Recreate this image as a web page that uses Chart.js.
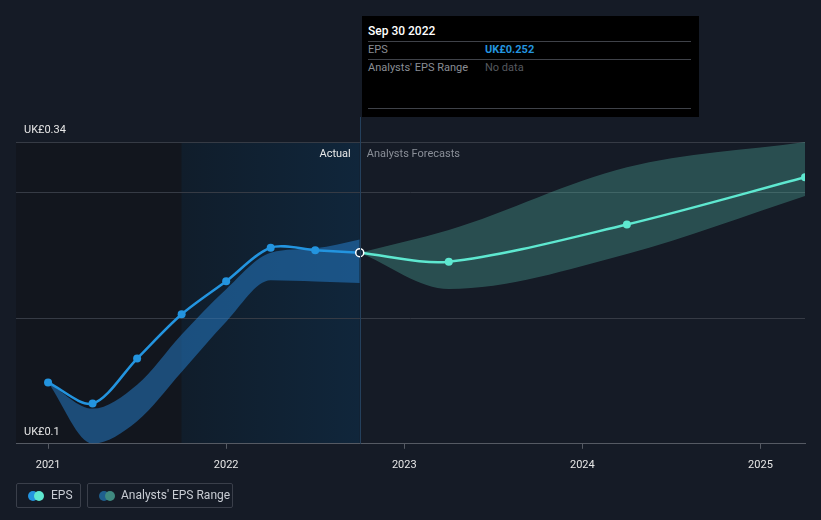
<!DOCTYPE html>
<html>
<head>
<meta charset="utf-8">
<script src="https://cdn.jsdelivr.net/npm/chart.js@4.4.1/dist/chart.umd.min.js"></script>
<style>
  html, body { margin: 0; padding: 0; background: #151b26; width: 821px; height: 520px; overflow: hidden; font-family: Roboto, "Noto Sans", sans-serif; }
  #wrap { position: relative; width: 821px; height: 520px; }
  #c { position: absolute; left: 0; top: 0; }
  #tip { position: absolute; left: 362px; top: 16px; width: 337px; height: 101px; background: #000; box-sizing: border-box; padding: 0 8px 0 6px; font-size: 11px; }
  #tip .title { color: #fff; font-size: 12px; font-weight: 500; height: 25px; line-height: 30px; border-bottom: 1px solid #3f4249; }
  #tip .row { height: 17px; line-height: 16px; border-bottom: 1px solid #3f4249; position: relative; color: #8a8e95; }
  #tip .row .v { position: absolute; left: 117px; top: 0; }
  #tip .row.last { border-bottom: none; }
  #tip .spacer { position: absolute; left: 6px; right: 8px; top: 92px; border-top: 1px solid #3f4249; }
  .leg { position: absolute; top: 483px; height: 25px; box-sizing: border-box; border: 1px solid #3a3f4a; border-radius: 2px; color: #c8ccd3; font-size: 12px; line-height: 23px; }
  .dot { position: absolute; top: 7px; width: 10px; height: 10px; border-radius: 50%; }
</style>
</head>
<body>
<div id="wrap">
  <canvas id="c" width="821" height="486"></canvas>
  <div id="tip">
    <div class="title">Sep 30 2022</div>
    <div class="row">EPS<span class="v" style="color:#2394df;font-weight:bold;">UK£0.252</span></div>
    <div class="row last">Analysts' EPS Range<span class="v" style="color:#55595f;">No data</span></div>
    <div class="spacer"></div>
  </div>
  <div class="leg" style="left:16px;width:65px;">
    <span class="dot" style="left:11px;background:#2394df;"></span>
    <span class="dot" style="left:17px;background:#5ee8d0;"></span>
    <span style="position:absolute;left:34px;">EPS</span>
  </div>
  <div class="leg" style="left:87px;width:146px;">
    <span class="dot" style="left:11px;background:#1f5f8e;"></span>
    <span class="dot" style="left:17px;background:#3f8a80;"></span>
    <span style="position:absolute;left:33px;">Analysts' EPS Range</span>
  </div>
</div>
<script>
// ---- data ----
const actualX = [2021, 2021.25, 2021.5, 2021.75, 2022, 2022.25, 2022.5, 2022.75];
const actualEPS = [0.1488, 0.132, 0.1678, 0.203, 0.2293, 0.256, 0.254, 0.252];
const actualLow = [0.1488, 0.1002, 0.118, 0.157, 0.197, 0.230, 0.229, 0.2278];
const actualHigh = [0.1488, 0.128, 0.147, 0.187, 0.223, 0.252, 0.2555, 0.2624];
const forecastX = [2022.75, 2023.25, 2024.25, 2025.25];
const forecastEPS = [0.252, 0.2448, 0.2744, 0.312];
const forecastLow = [0.252, 0.2232, 0.251, 0.297];
const forecastHigh = [0.252, 0.270, 0.320, 0.340];
const yTickValues = [0.1, 0.2, 0.3, 0.34];
const yLabelValues = [0.34, 0.1];
const xTickValues = [2021, 2022, 2023, 2024, 2025];
const xMin = 2020.82, xMax = 2025.25;
const pastStart = 2021.75, nowX = 2022.75;

const pts = (xs, ys) => xs.map((x, i) => ({ x: x, y: ys[i] }));

const bgPlugin = {
  id: 'bg',
  beforeDraw(chart) {
    const { ctx, chartArea: a, scales: { x } } = chart;
    const x1 = x.getPixelForValue(pastStart), x2 = x.getPixelForValue(nowX);
    ctx.save();
    ctx.fillStyle = '#12161e';
    ctx.fillRect(a.left, a.top, x1 - a.left, a.bottom - a.top);
    const g = ctx.createLinearGradient(x1, 0, x2, 0);
    g.addColorStop(0, '#101d2b');
    g.addColorStop(1, '#10263b');
    ctx.fillStyle = g;
    ctx.fillRect(x1, a.top, x2 - x1, a.bottom - a.top);
    ctx.restore();
  },
  afterDatasetsDraw(chart) {
    const { ctx, chartArea: a, scales: { x, y } } = chart;
    const x2 = x.getPixelForValue(nowX);
    ctx.save();
    ctx.strokeStyle = '#24405c';
    ctx.lineWidth = 1;
    ctx.beginPath();
    ctx.moveTo(Math.round(x2) + 0.5, 117);
    ctx.lineTo(Math.round(x2) + 0.5, a.bottom);
    ctx.stroke();
    ctx.font = '11px Roboto, "Noto Sans", sans-serif';
    ctx.textBaseline = 'middle';
    ctx.textAlign = 'right';
    ctx.fillStyle = '#e8e8e8';
    ctx.fillText('Actual', x2 - 9, a.top + 12);
    ctx.textAlign = 'left';
    ctx.fillStyle = '#8a8f98';
    ctx.fillText('Analysts Forecasts', x2 + 7, a.top + 12);
    // y-axis value labels, drawn just above their grid lines
    ctx.fillStyle = '#e6e6e6';
    yLabelValues.forEach(v => {
      ctx.fillText('UK£' + v, a.left + 8, y.getPixelForValue(v) - 12);
    });
    ctx.restore();
  }
};

new Chart(document.getElementById('c'), {
  type: 'line',
  data: {
    datasets: [
      { data: pts(actualX, actualLow), borderWidth: 0, pointRadius: 0, fill: false, cubicInterpolationMode: 'monotone', backgroundColor: 'transparent', order: 5 },
      { data: pts(actualX, actualHigh), borderWidth: 0, pointRadius: 0, fill: '-1', cubicInterpolationMode: 'monotone', backgroundColor: 'rgba(38,130,210,0.5)', order: 5 },
      { data: pts(forecastX, forecastLow), borderWidth: 0, pointRadius: 0, fill: false, cubicInterpolationMode: 'monotone', backgroundColor: 'transparent', order: 5 },
      { data: pts(forecastX, forecastHigh), borderWidth: 0, pointRadius: 0, fill: '-1', cubicInterpolationMode: 'monotone', backgroundColor: 'rgba(88,200,180,0.3)', order: 5 },
      { data: pts(forecastX, forecastEPS), borderColor: '#5ee8d0', backgroundColor: '#5ee8d0', borderWidth: 2.5, tension: 0.3,
        pointRadius: forecastX.map((v, i) => i === 0 ? 0 : 4), pointBorderWidth: 0, fill: false, order: 2 },
      { data: pts(actualX, actualEPS), borderColor: '#2394df', backgroundColor: '#2394df', borderWidth: 2.5, tension: 0.3,
        pointRadius: 4, pointBorderWidth: actualX.map((v, i) => i === actualX.length - 1 ? 1.5 : 0),
        pointBorderColor: actualX.map((v, i) => i === actualX.length - 1 ? '#ffffff' : '#2394df'),
        pointBackgroundColor: actualX.map((v, i) => i === actualX.length - 1 ? '#10263b' : '#2394df'),
        fill: false, order: 1 }
    ]
  },
  options: {
    responsive: false,
    animation: false,
    events: [],
    layout: { padding: { left: 16, right: 16, top: 142, bottom: 4 } },
    plugins: { legend: { display: false }, tooltip: { enabled: false } },
    scales: {
      x: {
        type: 'linear', min: xMin, max: xMax,
        afterBuildTicks: (s) => { s.ticks = xTickValues.map(v => ({ value: v })); },
        grid: { drawOnChartArea: false, drawTicks: true, tickLength: 5, color: '#555a63' },
        border: { display: true, color: '#555a63', width: 1 },
        ticks: { color: '#e6e6e6', padding: 10, font: { family: 'Roboto', size: 11 }, callback: (v) => String(v), maxRotation: 0 }
      },
      y: {
        type: 'linear', min: 0.1, max: 0.34,
        afterBuildTicks: (s) => { s.ticks = yTickValues.map(v => ({ value: v })); },
        grid: { drawTicks: false, color: (c) => c.tick && c.tick.value === 0.1 ? 'rgba(0,0,0,0)' : '#363b45', lineWidth: 1 },
        border: { display: false },
        ticks: { display: false }
      }
    }
  },
  plugins: [bgPlugin]
});
</script>
</body>
</html>
